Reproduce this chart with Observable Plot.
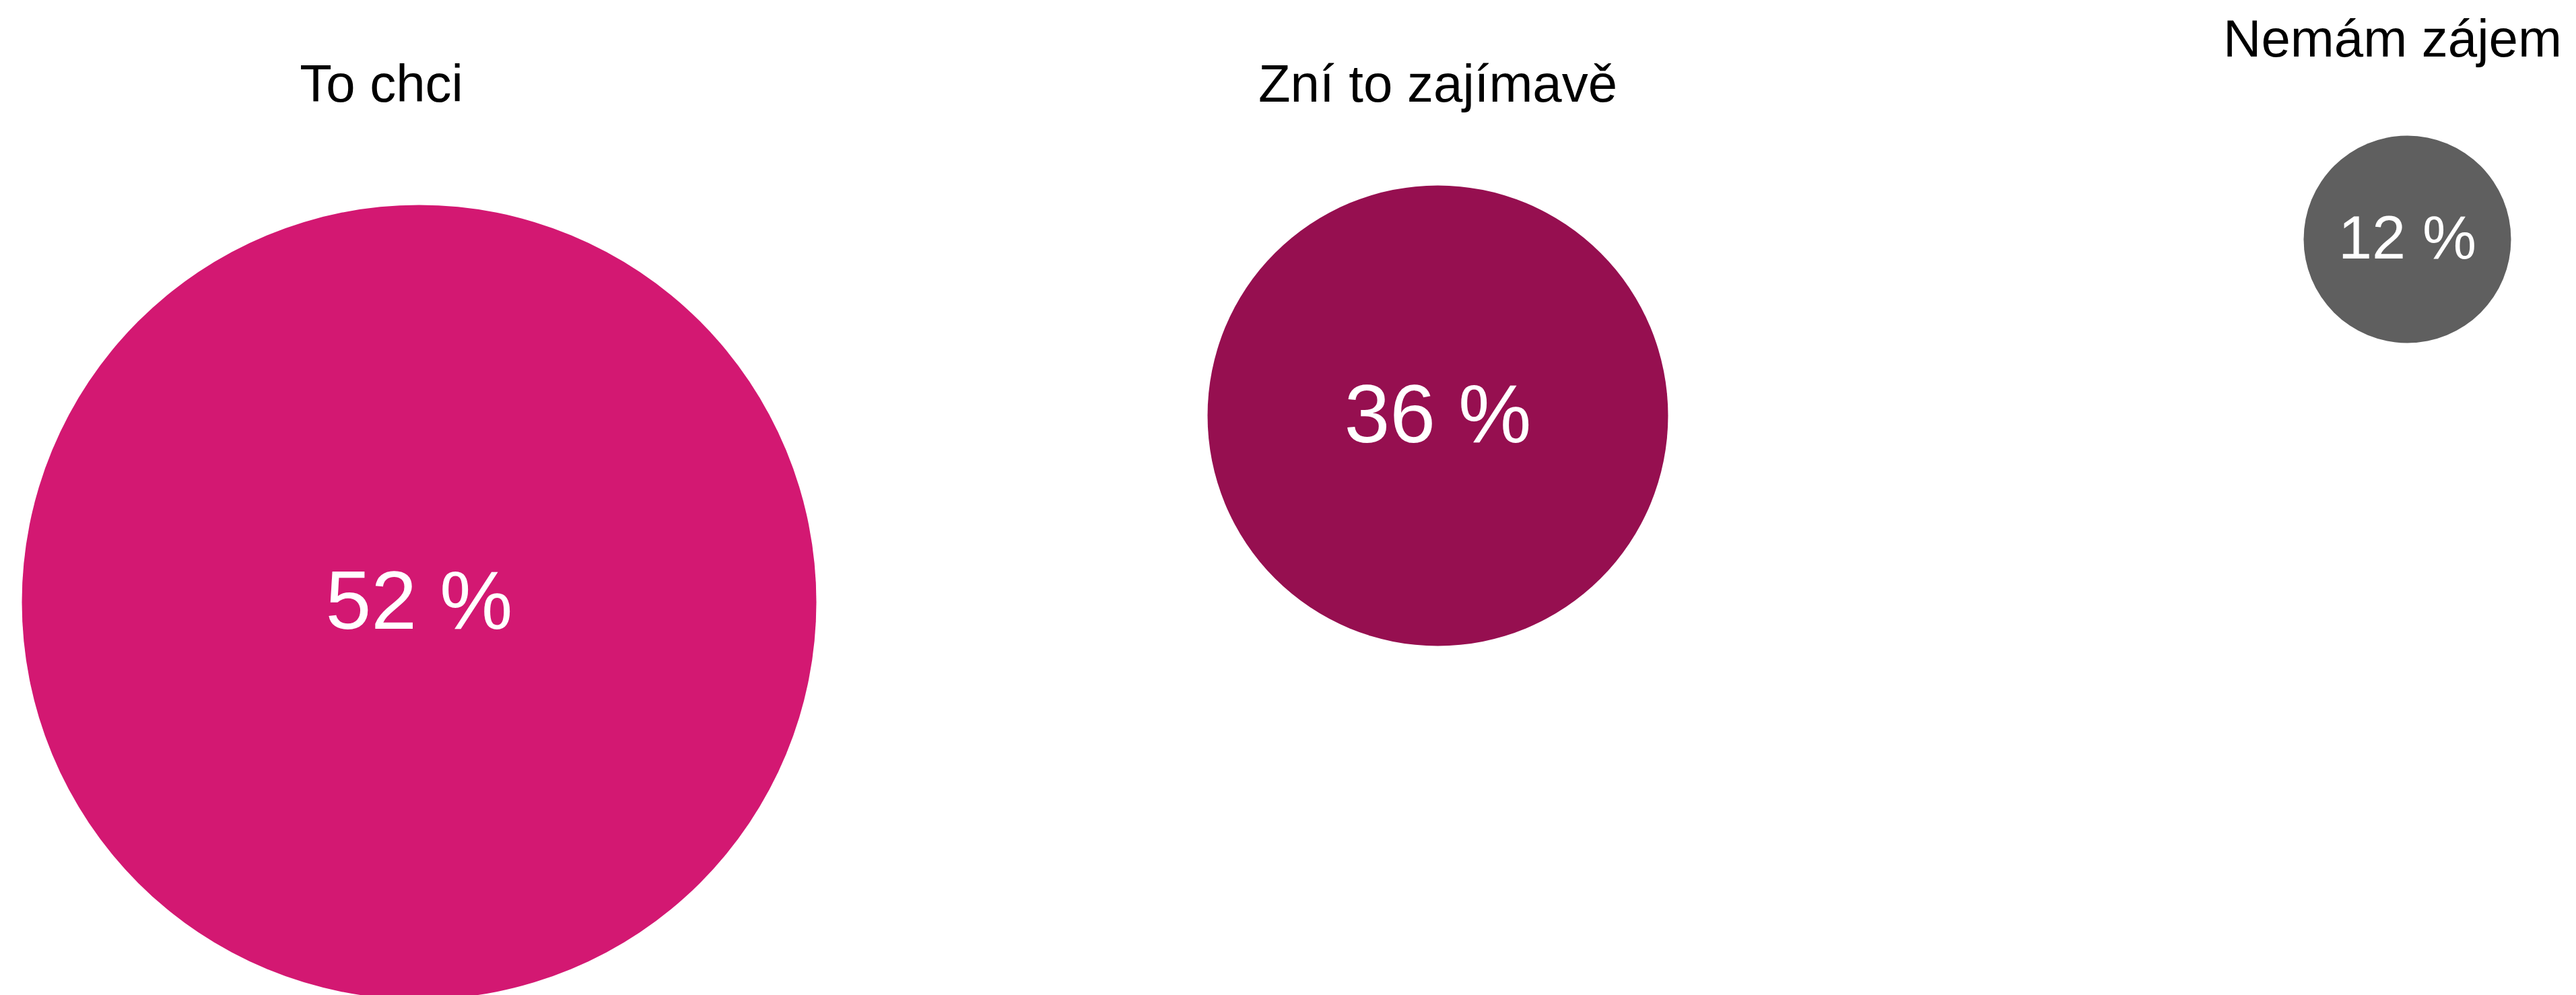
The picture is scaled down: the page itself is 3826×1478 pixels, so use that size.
<!DOCTYPE html>
<html>
<head>
<meta charset="utf-8">
<script src="https://cdn.jsdelivr.net/npm/d3@7"></script>
<script src="https://cdn.jsdelivr.net/npm/@observablehq/plot@0.6"></script>
<style>
  html, body { margin: 0; padding: 0; background: #ffffff; }
  #chart svg { display: block; }
</style>
</head>
<body>
<div id="chart"></div>
<script>
// Data
const categories = ["To chci", "Zní to zajímavě", "Nemám zájem"];
const shares = [52, 36, 12];
const colors = ["#d31872", "#960f50", "#5f5f5f"];

const data = categories.map((c, i) => ({category: c, share: shares[i], label: `${shares[i]} %`}));

// Layout of the bubbles lives in the scales (piecewise by share)
const W = 3826, H = 1478;
const font = "'Liberation Sans', Arial, Helvetica, sans-serif";

const labelOffsets = {
  "To chci": {dx: -56, dy: -744},
  "Zní to zajímavě": {dx: 0, dy: -467},
  "Nemám zájem": {dx: -22, dy: -272}
};

const labelMarks = categories.map(c =>
  Plot.text(data.filter(d => d.category === c), {
    x: "share",
    y: "share",
    text: "category",
    dx: labelOffsets[c].dx,
    dy: labelOffsets[c].dy,
    fill: "#000000",
    fontSize: 78,
    fontFamily: font,
    textAnchor: "middle",
    lineAnchor: "bottom"
  })
);

const chart = Plot.plot({
  width: W,
  height: H,
  margin: 0,
  style: {background: "#ffffff", fontFamily: font, overflow: "visible"},
  x: {type: "linear", domain: [12, 36, 52], range: [3575, 2135, 622], axis: null},
  y: {type: "linear", domain: [12, 36, 52], range: [355, 617, 894], axis: null},
  r: {type: "linear", domain: [12, 36, 52], range: [154, 342, 590]},
  color: {domain: categories, range: colors},
  marks: [
    Plot.dot(data, {x: "share", y: "share", r: "share", fill: "category", stroke: "none"}),
    Plot.text(data, {
      x: "share", y: "share", text: "label",
      fill: "#ffffff",
      fontSize: d => d.share >= 30 ? 122 : 90,
      fontFamily: font,
      textAnchor: "middle",
      lineAnchor: "middle"
    }),
    ...labelMarks
  ]
});

document.getElementById("chart").appendChild(chart);
</script>
</body>
</html>
